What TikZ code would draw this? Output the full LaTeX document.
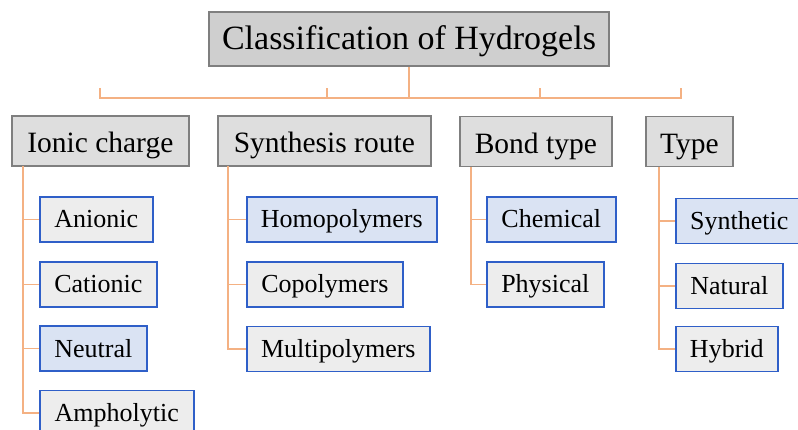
\documentclass[tikz,border=0pt]{standalone}
\usepackage{fontspec}
\setmainfont{Liberation Serif}
\definecolor{conn}{HTML}{F4B183}
\definecolor{gborder}{HTML}{7F7F7F}
\definecolor{tfill}{HTML}{CFCFCF}
\definecolor{cfill}{HTML}{DEDEDE}
\definecolor{ifill}{HTML}{EDEDED}
\definecolor{bfill}{HTML}{DAE3F3}
\definecolor{bborder}{RGB}{47,95,200}
\tikzset{
  titlebox/.style={draw=gborder, fill=tfill, line width=1.6pt, inner sep=0pt,
    minimum width=400pt, minimum height=54pt,
    font=\fontsize{34}{40}\selectfont, text height=30pt, text depth=8pt},
  catbox/.style={draw=gborder, fill=cfill, line width=1.6pt, inner sep=0pt,
    minimum height=50pt, anchor=west,
    font=\fontsize{29.5}{35}\selectfont, text height=30pt, text depth=6pt},
  itembox/.style={draw=bborder, fill=ifill, line width=1.6pt, inner sep=0pt,
    minimum height=45pt, anchor=west,
    font=\fontsize{26}{31}\selectfont, text height=23.5pt, text depth=6.5pt},
  hlbox/.style={itembox, fill=bfill},
  connector/.style={draw=conn, line width=1.4pt}
}
\begin{document}
\begin{tikzpicture}[x=1pt,y=-1pt]
\useasboundingbox (0,0) rectangle (798,430);
\clip (0,0) rectangle (798,430);
% title
\node[titlebox] (title) at (409,39) {Classification of Hydrogels};
% categories
\node[catbox, minimum width=177pt] (ion) at (11,141) {Ionic charge};
\node[catbox, minimum width=213pt] (syn) at (217,141) {Synthesis route};
\node[catbox, minimum width=152pt] (bond) at (459,141.5) {Bond type};
\node[catbox, minimum width=87pt] (type) at (645,141.5) {Type};
% ionic children
\node[itembox, minimum width=113pt] (anion) at (39,219.5) {Anionic};
\node[itembox, minimum width=117pt] (cation) at (39,284.5) {Cationic};
\node[hlbox, minimum width=107pt] (neutral) at (39,348.5) {Neutral};
\node[itembox, minimum width=154pt] (ampho) at (39,413) {Ampholytic};
% synthesis children
\node[hlbox, minimum width=190pt] (homo) at (246,219.5) {Homopolymers};
\node[itembox, minimum width=156pt] (copo) at (246,284.5) {Copolymers};
\node[itembox, minimum width=183pt] (multi) at (246,349) {Multipolymers};
% bond children
\node[hlbox, minimum width=129pt] (chem) at (486,219.5) {Chemical};
\node[itembox, minimum width=117pt] (phys) at (486,284.5) {Physical};
% type children
\node[hlbox, minimum width=127pt] (synth) at (675,221) {Synthetic};
\node[itembox, minimum width=107pt] (natural) at (675,286) {Natural};
\node[itembox, minimum width=102pt] (hybrid) at (675,349) {Hybrid};
% top connectors
\coordinate (hub) at (410,98);
\coordinate (d1) at (100,98);
\coordinate (d2) at (327,98);
\coordinate (d3) at (540,98);
\coordinate (d4) at (681,98);
\draw[connector] (title.south) -- (title.south |- hub);
\draw[connector] ([yshift=10pt]d1) -- (d1) -- (d4) -- ([yshift=10pt]d4);
\draw[connector] (d2) -- ([yshift=10pt]d2);
\draw[connector] (d3) -- ([yshift=10pt]d3);
% stems
\coordinate (s1) at (23,166);
\coordinate (s2) at (228,166);
\coordinate (s3) at (471,167);
\coordinate (s4) at (659,167);
\draw[connector] (s1) |- (ampho.west);
\draw[connector] (s1 |- anion.west) -- (anion.west);
\draw[connector] (s1 |- cation.west) -- (cation.west);
\draw[connector] (s1 |- neutral.west) -- (neutral.west);
\draw[connector] (s2) |- (multi.west);
\draw[connector] (s2 |- homo.west) -- (homo.west);
\draw[connector] (s2 |- copo.west) -- (copo.west);
\draw[connector] (s3) |- (phys.west);
\draw[connector] (s3 |- chem.west) -- (chem.west);
\draw[connector] (s4) |- (hybrid.west);
\draw[connector] (s4 |- synth.west) -- (synth.west);
\draw[connector] (s4 |- natural.west) -- (natural.west);
\end{tikzpicture}
\end{document}
